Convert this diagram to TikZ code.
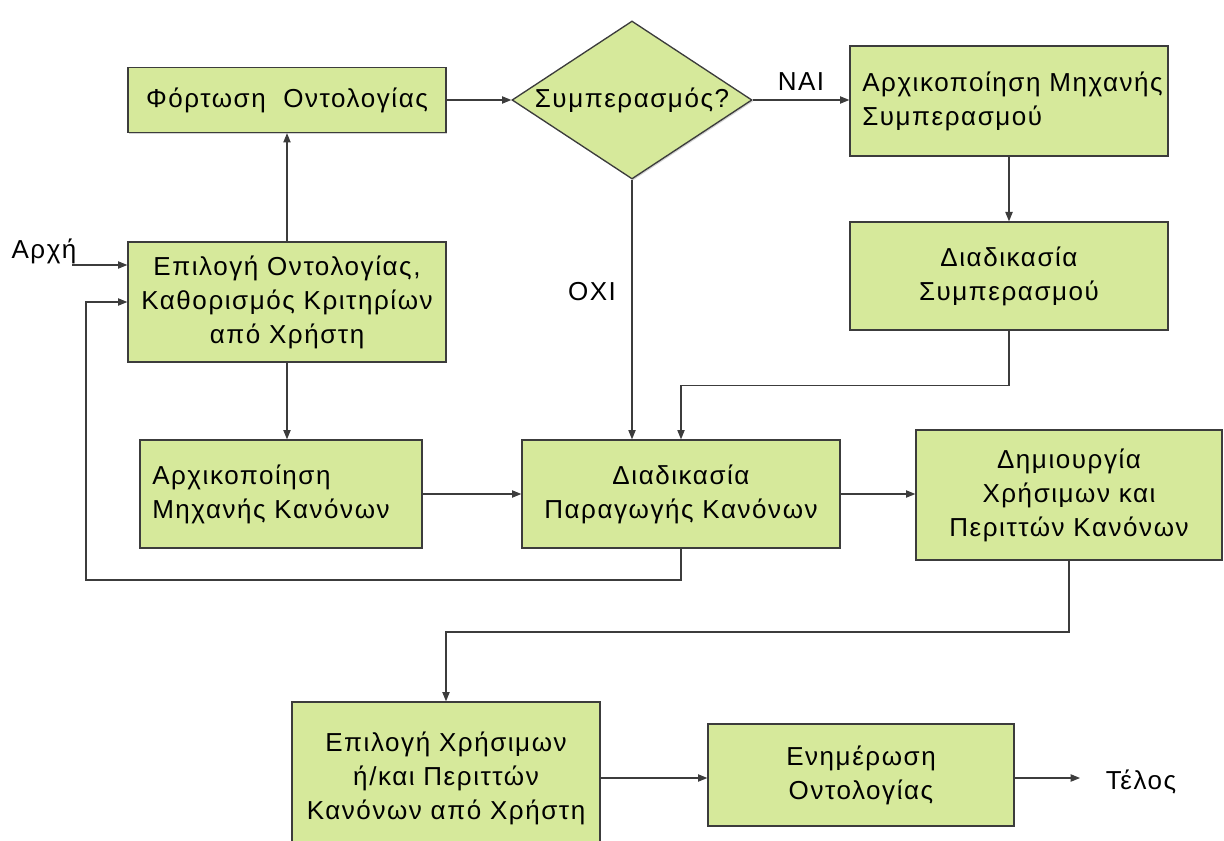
\documentclass[tikz,border=0pt]{standalone}
\usepackage{fontspec}
\setmainfont{Liberation Sans}[LetterSpace=6]
\usetikzlibrary{shapes.geometric,arrows.meta,calc,shadows}
\definecolor{boxfill}{RGB}{214,233,155}
\definecolor{edge}{RGB}{60,60,60}

\begin{document}
\begin{tikzpicture}[x=0.75pt,y=-0.75pt,
  txt/.style={font=\fontsize{19.5}{25.5}\selectfont},
  box/.style={draw=edge, line width=1pt, fill=boxfill, inner sep=0pt,
    align=center, txt, drop shadow={shadow xshift=1pt, shadow yshift=-1pt, fill=black!35}},
  lbl/.style={txt, inner sep=0pt},
  flow/.style={draw=edge, line width=0.8pt, -{Triangle[length=7pt,width=5.5pt]}}]
\useasboundingbox (0,0) rectangle (1224,841);
\clip (0,0) rectangle (1224,841);

% process boxes
\node[box, minimum width=238.5pt, minimum height=48.75pt] (load) at (287,100) {Φόρτωση\ \ Οντολογίας};
\node[box, diamond, minimum width=180pt, minimum height=118.5pt] (dec) at (632,100) {};
\node[lbl] at (dec) {Συμπερασμός?};
\node[box, minimum width=238.5pt, minimum height=82.5pt] (ainf) at (1009,101) {};
\node[lbl, anchor=west, align=left] (ainft) at (862,101) {Αρχικοποίηση Μηχανής\\Συμπερασμού};
\node[box, minimum width=238.5pt, minimum height=81pt] (dinf) at (1009,276) {Διαδικασία\\Συμπερασμού};
\node[box, minimum width=238.5pt, minimum height=90pt] (sel) at (287,302) {Επιλογή Οντολογίας,\\Καθορισμός Κριτηρίων\\από Χρήστη};
\node[box, minimum width=211.5pt, minimum height=81pt] (ire) at (281,494) {};
\node[lbl, anchor=west, align=left] (iret) at (152,494) {Αρχικοποίηση\\Μηχανής Κανόνων};
\node[box, minimum width=238.5pt, minimum height=81pt] (gen) at (681,494) {Διαδικασία\\Παραγωγής Κανόνων};
\node[box, minimum width=229.5pt, minimum height=97.5pt] (cre) at (1069,495) {Δημιουργία\\Χρήσιμων και\\Περιττών Κανόνων};
\node[box, minimum width=231pt, minimum height=114.75pt] (usr) at (446,778.5) {Επιλογή Χρήσιμων\\ή/και Περιττών\\Κανόνων από Χρήστη};
\node[box, minimum width=229.5pt, minimum height=76.5pt] (upd) at (861,775) {Ενημέρωση\\Οντολογίας};

% terminal labels
\node[lbl] (start) at (44,251) {Αρχή};
\node[lbl] (end) at (1141,782) {Τέλος};
\node[lbl] (no) at (592,292) {ΟΧΙ};

% helper points
\coordinate (s0) at (72,265);
\coordinate (lp) at (86,580);
\coordinate (cu) at (0,632);
\coordinate (e0) at (1080,778);

% connectors
\draw[flow] (s0) -- (s0 -| sel.west);
\draw[flow] (sel.north) -- (load.south);
\draw[flow] (load.east) -- (dec.west);
\draw[flow] (dec.east) -- (dec.east -| ainf.west) node[midway, above=7pt, lbl] {ΝΑΙ};
\draw[flow] (dec.south) -- (dec.south |- gen.north);
\draw[flow] (ainf.south) -- (dinf.north);
\draw[flow] (dinf.south) -- ++(0,55) -| (gen.north);
\draw[flow] (sel.south) -- (sel.south |- ire.north);
\draw[flow] (ire.east) -- (ire.east -| gen.west);
\draw[flow] (gen.east) -- (gen.east -| cre.west);
\draw[flow] (gen.south) |- (lp) |- (sel.west);
\draw[flow] (cre.south) -- (cre.south |- cu) -| (usr.north);
\draw[flow] (usr.east |- e0) -- (upd.west |- e0);
\draw[flow] (upd.east |- e0) -- (e0);
\end{tikzpicture}
\end{document}
